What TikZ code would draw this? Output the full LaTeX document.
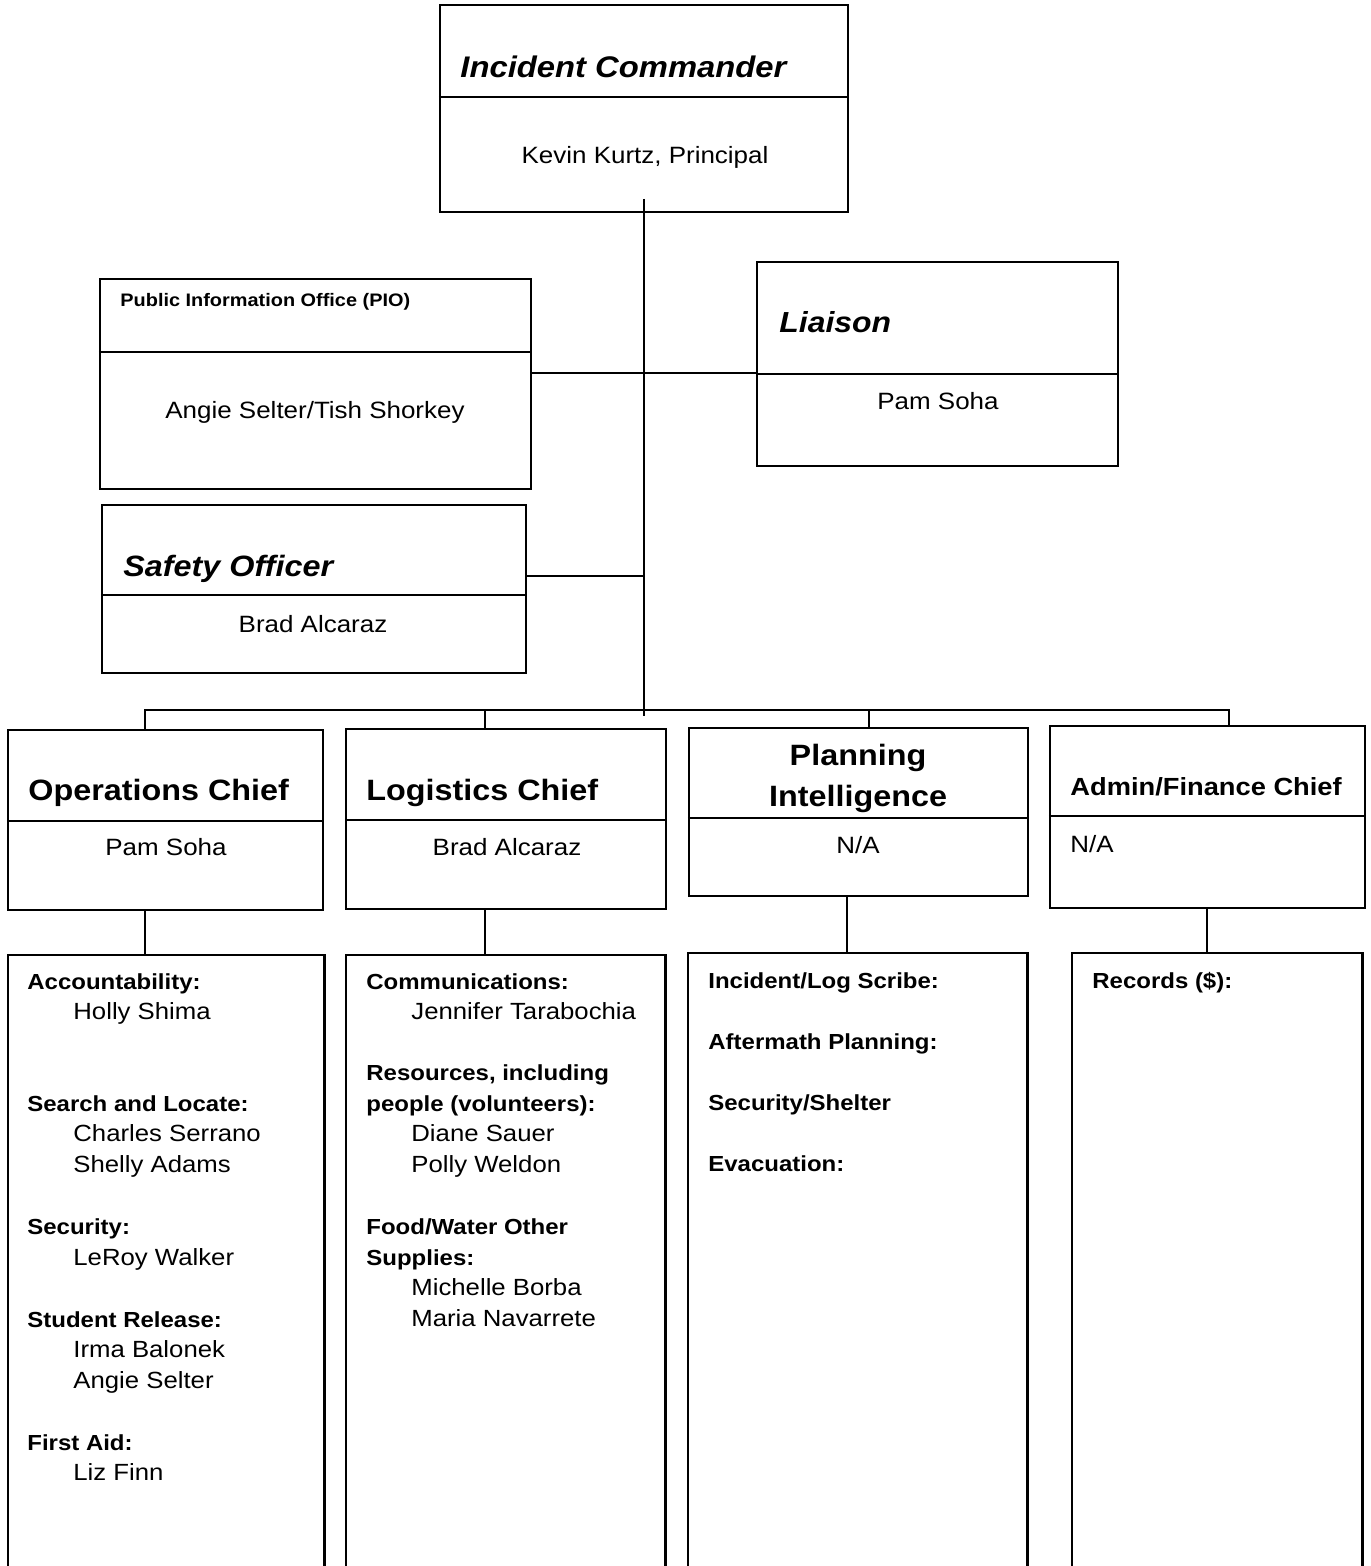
\documentclass[tikz,border=0pt]{standalone}
\usepackage{fontspec}
\setmainfont{Liberation Sans}[FakeStretch=1.1]
\usetikzlibrary{fit}
\tikzset{
  box/.style={draw, line width=1.1pt, inner sep=0pt},
  area/.style={inner sep=0pt},
  side/.style={line width=1.1pt},
  divline/.style={line width=1.1pt},
  conn/.style={line width=1.1pt},
  ttl/.style={font=\fontsize{14.7}{17}\selectfont\bfseries, inner sep=0pt},
  ttli/.style={font=\fontsize{14.9}{17}\selectfont\bfseries\itshape, anchor=base west, inner sep=0pt},
  nm/.style={font=\fontsize{11.8}{14}\selectfont, anchor=base, inner sep=0pt},
  lbl/.style={font=\fontsize{10.9}{13}\selectfont\bfseries, anchor=base west, inner sep=0pt},
  per/.style={font=\fontsize{11.7}{14}\selectfont, anchor=base west, inner sep=0pt},
}
\begin{document}
\begin{tikzpicture}[x=0.5pt, y=-0.5pt]
\path[use as bounding box, fill=white] (0,0) rectangle (1370,1566);

% ---------- boxes ----------
\node[box, fit={(440,5) (848,212)}] (ic) {};
\draw[divline] (ic.west |- 0,97) -- (ic.east |- 0,97);
\node[box, fit={(100,279) (531,489)}] (pio) {};
\draw[divline] (pio.west |- 0,352) -- (pio.east |- 0,352);
\node[box, fit={(757,262) (1118,466)}] (li) {};
\draw[divline] (li.west |- 0,374) -- (li.east |- 0,374);
\node[box, fit={(102,505) (526,673)}] (saf) {};
\draw[divline] (saf.west |- 0,595) -- (saf.east |- 0,595);

\node[box, fit={(8,730) (323,910)}] (ops) {};
\draw[divline] (ops.west |- 0,821) -- (ops.east |- 0,821);
\node[box, fit={(346,729) (666,909)}] (log) {};
\draw[divline] (log.west |- 0,820) -- (log.east |- 0,820);
\node[box, fit={(689,728) (1028,896)}] (plan) {};
\draw[divline] (plan.west |- 0,818) -- (plan.east |- 0,818);
\node[box, fit={(1050,726) (1365,908)}] (adm) {};
\draw[divline] (adm.west |- 0,816) -- (adm.east |- 0,816);

% lower boxes (run off the bottom of the page)
\node[area, fit={(8,955) (324,1566)}] (opsL) {};
\draw[side] (opsL.south west) |- (opsL.north east) -- (opsL.south east);
\node[area, fit={(346,955) (665,1566)}] (logL) {};
\draw[side] (logL.south west) |- (logL.north east) -- (logL.south east);
\node[area, fit={(688,953) (1027,1566)}] (planL) {};
\draw[side] (planL.south west) |- (planL.north east) -- (planL.south east);
\node[area, fit={(1072,953) (1362,1566)}] (admL) {};
\draw[side] (admL.south west) |- (admL.north east) -- (admL.south east);

% ---------- connectors ----------
\coordinate (trunkTop) at (644,199);
\coordinate (trunkBot) at (644,716);
\draw[conn] (trunkTop) -- (trunkBot);
\draw[conn] (pio.east |- 0,373) -- (li.west |- 0,373);
\draw[conn] (saf.east |- 0,576) -- (trunkTop |- 0,576);
\draw[conn] (ops.north -| 145,0) -- (145,710) -- (1229,710) -- (adm.north -| 1229,0);
\draw[conn] (log.north -| 485,0) -- (485,710);
\draw[conn] (plan.north -| 869,0) -- (869,710);
\draw[conn] (ops.south -| 145,0) -- (opsL.north -| 145,0);
\draw[conn] (log.south -| 485,0) -- (logL.north -| 485,0);
\draw[conn] (plan.south -| 847,0) -- (planL.north -| 847,0);
\draw[conn] (adm.south -| 1207,0) -- (admL.north -| 1207,0);

% ---------- titles and names ----------
\node[ttli] (icT) at (460,78) {Incident Commander};
\node[nm] (icN) at (645,164) {Kevin Kurtz, Principal};
\node[lbl, font=\fontsize{9.05}{11}\selectfont\bfseries] (pioT) at (120,307) {Public Information Office (PIO)};
\node[nm] (pioN) at (315,419) {Angie Selter/Tish Shorkey};
\node[ttli, font=\fontsize{14.5}{17}\selectfont\bfseries\itshape] (liT) at (779,333) {Liaison};
\node[nm] (liN) at (938,410) {Pam Soha};
\node[ttli, font=\fontsize{14.7}{17}\selectfont\bfseries\itshape] (safT) at (123,576) {Safety Officer};
\node[nm] (safN) at (313,632) {Brad Alcaraz};

\node[ttl, anchor=base west] (opsT) at (28,800) {Operations Chief};
\node[nm] (opsN) at (166,855) {Pam Soha};
\node[ttl, anchor=base west] (logT) at (366,800) {Logistics Chief};
\node[nm] (logN) at (507,855) {Brad Alcaraz};
\node[ttl, anchor=base] (planT1) at (858,765) {Planning};
\node[ttl, anchor=base] (planT2) at (858,806) {Intelligence};
\node[nm] (planN) at (858,853) {N/A};
\node[ttl, anchor=base west, font=\fontsize{12.4}{15}\selectfont\bfseries] (admT) at (1070,795) {Admin/Finance Chief};
\node[nm, anchor=base west] (admN) at (1070,852) {N/A};

% ---------- operations list ----------
\node[lbl] (o1) at (27,989) {Accountability:};
\node[per] (o2) at (73,1019) {Holly Shima};
\node[lbl] (o3) at (27,1111) {Search and Locate:};
\node[per] (o4) at (73,1141) {Charles Serrano};
\node[per] (o5) at (73,1172) {Shelly Adams};
\node[lbl] (o6) at (27,1234) {Security:};
\node[per] (o7) at (73,1265) {LeRoy Walker};
\node[lbl] (o8) at (27,1327) {Student Release:};
\node[per] (o9) at (73,1357) {Irma Balonek};
\node[per] (o10) at (73,1388) {Angie Selter};
\node[lbl] (o11) at (27,1450) {First Aid:};
\node[per] (o12) at (73,1480) {Liz Finn};

% ---------- logistics list ----------
\node[lbl] (l1) at (366,989) {Communications:};
\node[per] (l2) at (411,1019) {Jennifer Tarabochia};
\node[lbl] (l3) at (366,1080) {Resources, including};
\node[lbl] (l4) at (366,1111) {people (volunteers):};
\node[per] (l5) at (411,1141) {Diane Sauer};
\node[per] (l6) at (411,1172) {Polly Weldon};
\node[lbl] (l7) at (366,1234) {Food/Water Other};
\node[lbl] (l8) at (366,1265) {Supplies:};
\node[per] (l9) at (411,1295) {Michelle Borba};
\node[per] (l10) at (411,1326) {Maria Navarrete};

% ---------- planning list ----------
\node[lbl] (p1) at (708,988) {Incident/Log Scribe:};
\node[lbl] (p2) at (708,1049) {Aftermath Planning:};
\node[lbl] (p3) at (708,1110) {Security/Shelter};
\node[lbl] (p4) at (708,1171) {Evacuation:};

% ---------- admin list ----------
\node[lbl] (a1) at (1092,988) {Records (\$):};
\end{tikzpicture}
\end{document}
